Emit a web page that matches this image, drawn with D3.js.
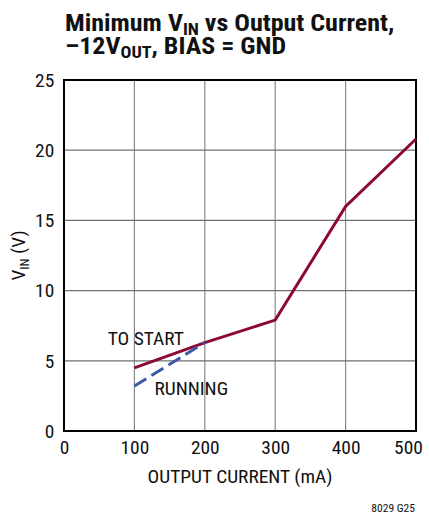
<!DOCTYPE html>
<html><head><meta charset="utf-8">
<script src="https://cdn.jsdelivr.net/npm/d3@7"></script>
<style>
body{margin:0;background:#fff;}
svg text{font-family:"Liberation Sans Narrow","Roboto Condensed","Arial Narrow",sans-serif;}
</style></head>
<body><svg id="c" width="429" height="517"></svg>
<script>
const xTicks = [0, 100, 200, 300, 400, 500];
const yTicks = [0, 5, 10, 15, 20, 25];
const startCurrent = [100, 200, 300, 400, 500];
const startVin = [4.5, 6.3, 7.9, 16.0, 20.8];
const runCurrent = [100, 200];
const runVin = [3.2, 6.3];

const svg = d3.select("#c");
const m = {l: 64, r: 416, t: 80, b: 431};
const x = d3.scaleLinear().domain([0, 500]).range([m.l, m.r]);
const y = d3.scaleLinear().domain([0, 25]).range([m.b, m.t]);
const SX = 1.08, FS = 18;

// grid
const g = svg.append("g");
g.selectAll(".vx").data(xTicks.slice(1, -1)).join("line")
  .attr("x1", d => x(d)).attr("x2", d => x(d)).attr("y1", m.t).attr("y2", m.b)
  .attr("stroke", "#8a8a8a").attr("stroke-width", 1.2);
g.selectAll(".hy").data(yTicks.slice(1, -1)).join("line")
  .attr("x1", m.l).attr("x2", m.r).attr("y1", d => y(d)).attr("y2", d => y(d))
  .attr("stroke", "#707070").attr("stroke-width", 1.2);
svg.append("rect").attr("x", m.l).attr("y", m.t).attr("width", m.r - m.l).attr("height", m.b - m.t)
  .attr("fill", "none").attr("stroke", "#000").attr("stroke-width", 2);

// axes labels via d3 axes
const xa = svg.append("g").attr("transform", `translate(0,${m.b})`)
  .call(d3.axisBottom(x).tickValues(xTicks).tickSize(0).tickPadding(10));
const ya = svg.append("g").attr("transform", `translate(${m.l},0)`)
  .call(d3.axisLeft(y).tickValues(yTicks).tickSize(0).tickPadding(9));
[xa, ya].forEach(a => { a.select(".domain").remove(); a.selectAll("text").attr("font-size", FS).attr("fill", "#111")
  .attr("font-family", '"Liberation Sans Narrow","Roboto Condensed",sans-serif')
  .attr("transform", `scale(${SX},1)`); });
ya.selectAll("text").attr("dy", "0.35em");
xa.selectAll("text").filter(d => d === xTicks[xTicks.length - 1])
  .attr("transform", `translate(-8,0) scale(${SX},1)`);

// lines
const line = d3.line().x(d => x(d[0])).y(d => y(d[1]));
svg.append("path").datum(startCurrent.map((c, i) => [c, startVin[i]]))
  .attr("d", line).attr("fill", "none").attr("stroke", "#8c0a32").attr("stroke-width", 3);
svg.append("path").datum(runCurrent.map((c, i) => [c, runVin[i]]))
  .attr("d", line).attr("fill", "none").attr("stroke", "#3a5aa8").attr("stroke-width", 3)
  .attr("stroke-dasharray", "14,6");

function label(px, py, sx, anchor) {
  return svg.append("g").attr("transform", `translate(${px},${py}) scale(${sx},1)`)
    .append("text").attr("text-anchor", anchor || "start").attr("fill", "#111");
}
// annotations
label(x(62), 345, SX).attr("font-size", FS).text("TO START");
label(x(128.5), 395, SX).attr("font-size", FS).text("RUNNING");

// titles
const TS = 1.13;
const t1 = label(65, 31, TS).attr("font-size", 23).attr("font-weight", "bold");
t1.append("tspan").text("Minimum V");
t1.append("tspan").attr("font-size", 16).attr("dy", 4).text("IN");
t1.append("tspan").attr("dy", -4).text(" vs Output Current,");
const t2 = label(65, 54, TS).attr("font-size", 23).attr("font-weight", "bold");
t2.append("tspan").text("–12V");
t2.append("tspan").attr("font-size", 16).attr("dy", 4).text("OUT");
t2.append("tspan").attr("dy", -4).text(", BIAS = GND");

label((m.l + m.r) / 2, 483, SX, "middle").attr("font-size", FS).text("OUTPUT CURRENT (mA)");
const yl = svg.append("g").attr("transform", `translate(25,${(m.t + m.b) / 2}) rotate(-90) scale(${SX},1)`)
  .append("text").attr("text-anchor", "middle").attr("font-size", FS).attr("fill", "#111");
yl.append("tspan").text("V");
yl.append("tspan").attr("font-size", 12).attr("dy", 4).text("IN");
yl.append("tspan").attr("dy", -4).text(" (V)");
label(415, 512, 1.05, "end").attr("font-size", 11).text("8029 G25");
</script></body></html>
